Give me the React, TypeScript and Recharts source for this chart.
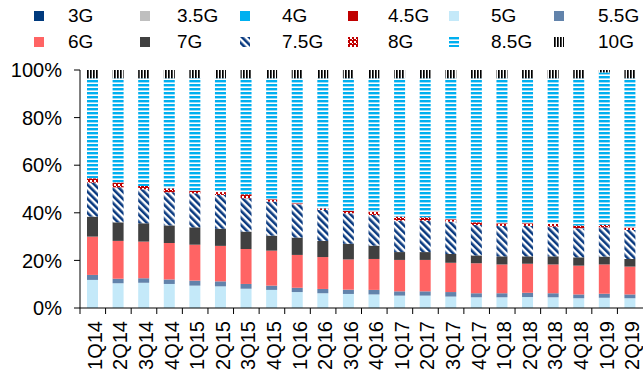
import { BarChart, Bar, XAxis, YAxis } from "recharts";

const quarters = [
  "1Q14", "2Q14", "3Q14", "4Q14", "1Q15", "2Q15", "3Q15", "4Q15",
  "1Q16", "2Q16", "3Q16", "4Q16", "1Q17", "2Q17", "3Q17", "4Q17",
  "1Q18", "2Q18", "3Q18", "4Q18", "1Q19", "2Q19",
];

// share of shipments by generation, % of quarter total
const gen3 = [0, 0, 0, 0, 0, 0, 0, 0, 0, 0, 0, 0, 0, 0, 0, 0, 0, 0, 0, 0, 0, 0];
const gen35 = [0, 0, 0, 0, 0, 0, 0, 0, 0, 0, 0, 0, 0, 0, 0, 0, 0, 0, 0, 0, 0, 0];
const gen4 = [0, 0, 0, 0, 0, 0, 0, 0, 0, 0, 0, 0, 0, 0, 0, 0, 0, 0, 0, 0, 0, 0];
const gen45 = [0, 0, 0, 0, 0, 0, 0, 0, 0, 0, 0, 0, 0, 0, 0, 0, 0, 0, 0, 0, 0, 0];
const gen5 = [11.8, 10.4, 10.6, 10.1, 9.4, 9.1, 8.1, 7.6, 6.7, 6.2, 5.9, 5.7, 5.2, 5.2, 4.8, 4.5, 4.5, 4.6, 4.5, 4.1, 4.3, 4.1];
const gen55 = [2.1, 1.9, 1.9, 1.9, 2.1, 2.1, 2.0, 1.8, 1.8, 1.8, 1.8, 1.9, 1.8, 1.8, 1.9, 1.7, 1.7, 1.8, 1.7, 1.6, 1.7, 1.6];
const gen6 = [16.1, 15.9, 15.4, 15.3, 15.1, 14.9, 14.7, 14.7, 13.8, 13.4, 12.7, 13.0, 13.2, 13.2, 12.3, 12.6, 12.1, 12.2, 12.1, 12.1, 12.3, 11.7];
const gen7 = [8.4, 7.8, 7.7, 7.4, 7.3, 7.2, 7.3, 6.3, 7.3, 6.8, 6.6, 5.6, 3.3, 3.3, 3.7, 3.3, 3.4, 3.1, 3.4, 3.5, 3.3, 3.2];
const gen75 = [14.3, 14.7, 14.3, 13.9, 14.3, 14.2, 14.0, 14.3, 14.0, 13.0, 12.8, 12.9, 13.2, 13.2, 13.6, 12.8, 12.8, 12.8, 12.5, 12.2, 12.3, 12.2];
const gen8 = [1.8, 2.0, 1.4, 1.7, 1.1, 1.2, 1.7, 1.0, 0.4, 0.7, 1.0, 1.4, 1.7, 1.4, 1.0, 1.1, 1.1, 1.1, 1.1, 1.2, 1.1, 1.0];
const gen85 = [42.0, 43.8, 45.2, 46.2, 47.3, 47.8, 48.7, 50.8, 52.5, 54.6, 55.7, 56.0, 58.1, 58.4, 59.2, 60.5, 60.9, 60.9, 61.2, 61.8, 64.0, 62.7];
const gen10 = [3.5, 3.5, 3.5, 3.5, 3.4, 3.5, 3.5, 3.5, 3.5, 3.5, 3.5, 3.5, 3.5, 3.5, 3.5, 3.5, 3.5, 3.5, 3.5, 3.5, 1.0, 3.5];

const series = [
  { name: "3G", values: gen3, fill: "#003A7D" },
  { name: "3.5G", values: gen35, fill: "#BFBFBF" },
  { name: "4G", values: gen4, fill: "#00B0F0" },
  { name: "4.5G", values: gen45, fill: "#C00000" },
  { name: "5G", values: gen5, fill: "#C4E9F9" },
  { name: "5.5G", values: gen55, fill: "#6283AB" },
  { name: "6G", values: gen6, fill: "#FF6464" },
  { name: "7G", values: gen7, fill: "#404040" },
  { name: "7.5G", values: gen75, fill: "url(#hatch75)" },
  { name: "8G", values: gen8, fill: "url(#check8)" },
  { name: "8.5G", values: gen85, fill: "url(#stripe85)" },
  { name: "10G", values: gen10, fill: "url(#vert10)" },
];

const data = quarters.map((q, i) => {
  const row: Record<string, number | string> = { quarter: q };
  series.forEach((s) => {
    row[s.name] = s.values[i];
  });
  return row;
});

const FONT = '"Liberation Sans", Arial, sans-serif';
const W = 643;
const H = 378;
const PLOT_LEFT = 80;
const BAND = (W - PLOT_LEFT) / quarters.length;

// legend grid: icon / text x per column, two rows
const legendIconX = [34, 140, 240, 348, 449, 554];
const legendTextX = [68, 177, 282, 388, 491, 598];
const legendRowY = [16, 42];

const QuarterTick = ({ x, y, payload }: any) => (
  <g>
    <line x1={x - BAND / 2} y1={y} x2={x - BAND / 2} y2={y + 6} stroke="#000" strokeWidth={1} />
    <text
      x={x + 2}
      y={y + 13}
      transform={`rotate(-90 ${x + 2} ${y + 13})`}
      textAnchor="end"
      dominantBaseline="central"
      fill="#000"
      style={{ fontSize: 20, fontFamily: FONT }}
    >
      {payload.value}
    </text>
  </g>
);

function Legend() {
  return (
    <div style={{ position: "absolute", left: 0, top: 0, width: W, height: 60 }}>
      {series.map((s, i) => {
        const col = i % 6;
        const row = Math.floor(i / 6);
        const cy = legendRowY[row];
        return (
          <div key={s.name}>
            <svg
              width={10}
              height={10}
              style={{ position: "absolute", left: legendIconX[col], top: cy - 5 }}
            >
              <rect x={0} y={0} width={10} height={10} fill={s.fill} />
            </svg>
            <div
              style={{
                position: "absolute",
                left: legendTextX[col],
                top: cy - 12,
                height: 24,
                lineHeight: "24px",
                fontSize: 19,
                fontFamily: FONT,
                color: "#000",
                whiteSpace: "nowrap",
              }}
            >
              {s.name}
            </div>
          </div>
        );
      })}
    </div>
  );
}

export default function App() {
  return (
    <div style={{ position: "absolute", left: 0, top: 0, width: W, height: H, background: "#fff" }}>
      <BarChart
        width={W}
        height={H}
        data={data}
        stackOffset="expand"
        margin={{ top: 70, right: 0, bottom: 0, left: 0 }}
      >
        <defs>
          <pattern id="hatch75" width={5} height={5} patternUnits="userSpaceOnUse" patternTransform="rotate(-45)">
            <rect x={0} y={0} width={5} height={5} fill="#fff" />
            <rect x={0} y={0} width={2.6} height={5} fill="#0A3A80" />
          </pattern>
          <pattern id="check8" width={4} height={4} patternUnits="userSpaceOnUse">
            <rect x={0} y={0} width={4} height={4} fill="#C00000" />
            <rect x={2} y={0} width={2} height={2} fill="#fff" />
            <rect x={0} y={2} width={1} height={1} fill="#fff" />
          </pattern>
          <pattern id="stripe85" width={4} height={4} patternUnits="userSpaceOnUse">
            <rect x={0} y={0} width={4} height={4} fill="#fff" />
            <rect x={0} y={0} width={4} height={2} fill="#00B0F0" />
            <rect x={0} y={2} width={4} height={1} fill="#9BDBF5" />
          </pattern>
          <pattern id="vert10" width={3} height={3} patternUnits="userSpaceOnUse">
            <rect x={0} y={0} width={3} height={3} fill="#fff" />
            <rect x={0} y={0} width={1.7} height={3} fill="#000" />
          </pattern>
        </defs>
        <XAxis
          dataKey="quarter"
          interval={0}
          height={70}
          tickSize={0}
          tickMargin={0}
          tickLine={false}
          axisLine={{ stroke: "#000" }}
          tick={<QuarterTick />}
        />
        <YAxis
          width={PLOT_LEFT}
          domain={[0, 1]}
          ticks={[0, 0.2, 0.4, 0.6, 0.8, 1]}
          tickFormatter={(v: number) => `${Math.round(v * 100)}%`}
          tickSize={6}
          tickMargin={12}
          axisLine={{ stroke: "#000" }}
          tickLine={{ stroke: "#000" }}
          tick={{ fill: "#000", fontSize: 20, fontFamily: FONT }}
        />
        {series.map((s) => (
          <Bar
            key={s.name}
            dataKey={s.name}
            stackId="share"
            fill={s.fill}
            barSize={11}
            isAnimationActive={false}
          />
        ))}
      </BarChart>
      <Legend />
    </div>
  );
}
